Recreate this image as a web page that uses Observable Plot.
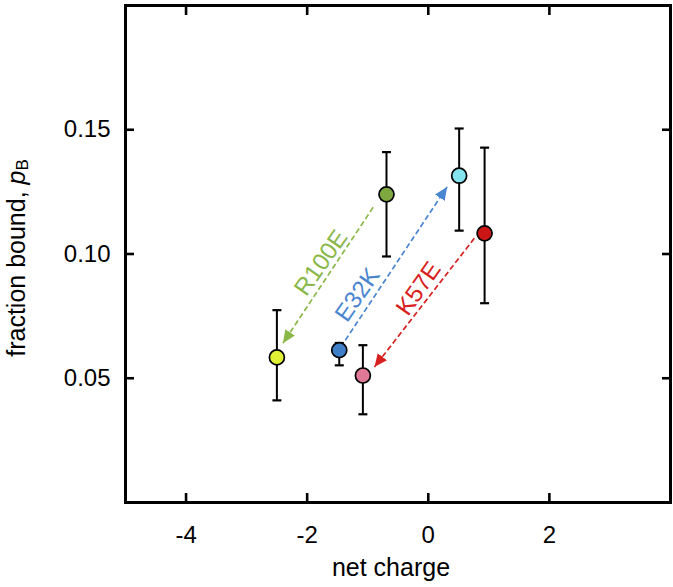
<!DOCTYPE html>
<html>
<head>
<meta charset="utf-8">
<script src="https://cdn.jsdelivr.net/npm/d3@7"></script>
<script src="https://cdn.jsdelivr.net/npm/@observablehq/plot@0.6"></script>
<style>
  html, body { margin: 0; padding: 0; background: #fff; }
  #chart svg { display: block; font-family: "Liberation Sans", Arial, sans-serif; }
</style>
</head>
<body>
<div id="chart"></div>
<script>
// ---- data ----
const variants = ["R100E mutant", "E32K", "K57E mutant", "R100 wt", "E32K mutant", "K57 wt"];
const netCharge = [-2.5, -1.47, -1.08, -0.69, 0.51, 0.93];
const fracBound = [0.0584, 0.0613, 0.0511, 0.124, 0.1315, 0.1083];
const errLow = [0.0411, 0.0552, 0.0355, 0.099, 0.1094, 0.0802];
const errHigh = [0.0774, 0.0642, 0.0633, 0.141, 0.1505, 0.1428];
const dotColors = ["#e0f034", "#3f7fc8", "#e07898", "#80a840", "#84e4f0", "#cc1616"];

const arrowNames = ["R100E", "E32K", "K57E"];
const arrowX1 = [-0.91, -1.37, 0.76];
const arrowY1 = [0.1188, 0.0653, 0.1063];
const arrowX2 = [-2.40, 0.31, -0.89];
const arrowY2 = [0.0641, 0.127, 0.0545];
const arrowColors = ["#8ab848", "#4a86d0", "#d82020"];
const labelX = [-1.77, -1.17, -0.16];
const labelY = [0.0965, 0.0836, 0.0861];

const xTicks = [-4, -2, 0, 2];
const yTicks = [0.05, 0.10, 0.15];

const points = variants.map((v, i) => ({
  name: v, x: netCharge[i], y: fracBound[i], lo: errLow[i], hi: errHigh[i], color: dotColors[i]
}));
const arrows = arrowNames.map((n, i) => ({
  name: n, x1: arrowX1[i], y1: arrowY1[i], x2: arrowX2[i], y2: arrowY2[i],
  color: arrowColors[i], lx: labelX[i], ly: labelY[i]
}));

const capSymbol = {
  draw(ctx, size) {
    const r = Math.sqrt(size / Math.PI);
    ctx.moveTo(-r, 0);
    ctx.lineTo(r, 0);
  }
};

function headMarker(color, context) {
  const ns = "http://www.w3.org/2000/svg";
  const doc = context && context.document ? context.document : document;
  const m = doc.createElementNS(ns, "marker");
  m.setAttribute("viewBox", "-13 -6 13 12");
  m.setAttribute("markerWidth", "13");
  m.setAttribute("markerHeight", "12");
  m.setAttribute("markerUnits", "userSpaceOnUse");
  m.setAttribute("orient", "auto");
  m.setAttribute("refX", "0");
  m.setAttribute("refY", "0");
  const p = doc.createElementNS(ns, "path");
  p.setAttribute("d", "M0,0L-13,-5.8L-13,5.8Z");
  p.setAttribute("fill", color);
  p.setAttribute("stroke", "none");
  m.appendChild(p);
  return m;
}

const tickFont = 24;

const chart = Plot.plot({
  width: 673,
  height: 587,
  marginLeft: 125,
  marginRight: 3,
  marginTop: 5,
  marginBottom: 85,
  style: { fontSize: tickFont + "px", fontFamily: "Liberation Sans, Arial, sans-serif", color: "#000" },
  x: { domain: [-5, 4] },
  y: { domain: [0, 0.2] },
  marks: [
    Plot.axisX({ anchor: "bottom", ticks: xTicks, tickSize: -9, strokeWidth: 2.6, tickPadding: 32, tickFormat: d => String(d), label: null, fontSize: tickFont }),
    Plot.axisX({ anchor: "top", ticks: xTicks, tickSize: -9, strokeWidth: 2.6, tickFormat: () => "", label: null }),
    Plot.axisY({ anchor: "left", ticks: yTicks, tickSize: -9, strokeWidth: 2.6, tickPadding: 24, tickFormat: d3.format(".2f"), label: null, fontSize: tickFont }),
    Plot.axisY({ anchor: "right", ticks: yTicks, tickSize: -9, strokeWidth: 2.6, tickFormat: () => "", label: null }),
    Plot.frame({ stroke: "#000", strokeWidth: 3 }),
    Plot.link(arrows, {
      x1: "x1", y1: "y1", x2: "x2", y2: "y2",
      stroke: d => d.color, strokeWidth: 1.7, strokeDasharray: "5.5,3",
      markerEnd: headMarker
    }),
    Plot.text(arrows, {
      x: "lx", y: "ly", text: "name", fill: d => d.color,
      rotate: -55, fontSize: 24
    }),
    Plot.ruleX(points, { x: "x", y1: "lo", y2: "hi", stroke: "#000", strokeWidth: 2 }),
    Plot.dot(points, { x: "x", y: "lo", symbol: capSymbol, r: 4.5, stroke: "#000", strokeWidth: 2.2, fill: "none" }),
    Plot.dot(points, { x: "x", y: "hi", symbol: capSymbol, r: 4.5, stroke: "#000", strokeWidth: 2.2, fill: "none" }),
    Plot.dot(points, { x: "x", y: "y", r: 7.5, fill: d => d.color, stroke: "#000", strokeWidth: 1.7 })
  ]
});

document.getElementById("chart").appendChild(chart);

// axis titles
const svg = d3.select(chart);
svg.append("text")
  .attr("x", 391).attr("y", 569)
  .attr("text-anchor", "middle").attr("dominant-baseline", "middle")
  .attr("font-size", 25).attr("fill", "#000")
  .text("net charge");
const yl = svg.append("text")
  .attr("transform", "translate(18,258) rotate(-90)")
  .attr("text-anchor", "middle").attr("dominant-baseline", "middle")
  .attr("font-size", 25).attr("fill", "#000");
yl.append("tspan").text("fraction bound, ");
yl.append("tspan").attr("font-style", "italic").text("p");
yl.append("tspan").attr("font-size", 17).attr("dy", 6).text("B");
</script>
</body>
</html>
